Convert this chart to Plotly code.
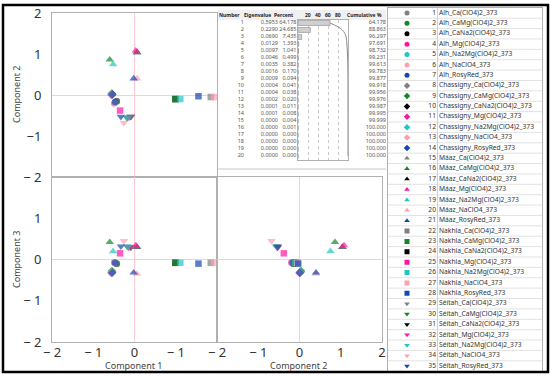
import plotly.graph_objects as go

W, H = 550, 378
def px(x): return x / W
def py(y): return 1 - y / H

# ---------------- data ----------------
sites = ["Alh", "Chassigny", "Máaz", "Nakhla", "Séítah"]
salts = ["Ca(ClO4)2", "CaMg(ClO4)2", "CaNa2(ClO4)2", "Mg(ClO4)2",
         "Na2Mg(ClO4)2", "NaClO4", "RosyRed"]
site_symbols = ["circle", "diamond", "triangle-up", "square", "triangle-down"]
salt_colors = ["#808080", "#12872a", "#000000", "#ff17a2", "#22c4c4", "#ff9fb2", "#1546b5"]

sample_names = [f"{s}_{t}_373" for s in sites for t in salts]

comp1 = [-0.43, -0.46, -0.43, -0.49, -0.47, -0.48, -0.47,
         -0.54, -0.55, -0.54, -0.56, -0.55, -0.55, -0.54,
         0.06, -0.60, 0.06, 0.03, -0.52, 0.06, -0.02,
         1.85, 0.99, 0.99, -0.35, 1.11, 1.93, 1.55,
         -0.09, -0.18, -0.09, -0.14, -0.16, -0.26, -0.33]
comp2 = [-0.15, -0.17, -0.15, -0.20, -0.18, -0.19, -0.17,
         0.02, 0.04, 0.02, 0.00, 0.02, 0.01, 0.01,
         1.04, 0.86, 1.04, 1.08, 0.75, 0.40, 0.40,
         -0.05, -0.10, -0.10, -0.38, -0.10, -0.05, -0.03,
         -0.53, -0.56, -0.53, -0.54, -0.55, -0.68, -0.53]
comp3 = [-0.10, -0.09, -0.10, -0.07, -0.08, -0.08, -0.08,
         -0.30, -0.28, -0.30, -0.33, -0.31, -0.31, -0.32,
         0.30, 0.42, 0.30, 0.34, 0.20, -0.35, -0.32,
         -0.08, -0.08, -0.08, 0.15, -0.08, -0.08, -0.10,
         0.30, 0.32, 0.30, 0.29, 0.31, 0.45, 0.32]

eig_number = list(range(1, 21))
eigenvalue = ["0.5953", "0.2290", "0.0690", "0.0129", "0.0097", "0.0046", "0.0035",
              "0.0016", "0.0009", "0.0004", "0.0004", "0.0002", "0.0001", "0.0001",
              "0.0000", "0.0000", "0.0000", "0.0000", "0.0000", "0.0000"]
percent = [64.178, 24.685, 7.435, 1.393, 1.041, 0.499, 0.382, 0.170, 0.094, 0.041,
           0.038, 0.020, 0.011, 0.008, 0.004, 0.001, 0.000, 0.000, 0.000, 0.000]
cumulative = [64.178, 88.863, 96.297, 97.691, 98.732, 99.231, 99.613, 99.783, 99.877, 99.918,
              99.956, 99.976, 99.987, 99.995, 99.999, 100.000, 100.000, 100.000, 100.000, 100.000]

ticks_all = [-2, -1, 0, 1, 2]
xt_left = ["− 2", "− 1", "0", "− 1", "− 2"]
xt_right_vals = [-1, 0, 1, 2]
xt_right = ["− 1", "0", "1", "2"]
yt_top = ["− 2", "−1", "0", "1", "2"]
yt_bot_vals = [-2, -1, 0, 1]
yt_bot = ["− 2", "− 1", "0", "1"]

# --------------- figure ---------------
n = len(sample_names)
colors = [salt_colors[i % 7] for i in range(n)]
symbols = [site_symbols[i // 7] for i in range(n)]
sizes = [7.5 if "triangle" in symbols[i] else 6.5 for i in range(n)]
# draw black (CaNa2) markers first so they sit underneath
order = [i for i in range(n) if i % 7 == 2] + [i for i in range(n) if i % 7 != 2]

def pick(arr):
    return [arr[i] for i in order]

fig = go.Figure()
panels = [("x", "y", comp1, comp2), ("x2", "y2", comp1, comp3), ("x3", "y3", comp2, comp3)]
for xa, ya, xs, ys in panels:
    fig.add_trace(go.Scatter(
        x=pick(xs), y=pick(ys), xaxis=xa, yaxis=ya, mode="markers",
        text=pick(sample_names), hoverinfo="text",
        marker=dict(color=pick(colors), symbol=pick(symbols), size=pick(sizes),
                    line=dict(width=0))))

# eigenvalue bar chart
fig.add_trace(go.Bar(x=percent, y=eig_number, orientation="h", xaxis="x5", yaxis="y5",
                     width=0.7, marker=dict(color="#d0d0d0", line=dict(color="#8a8a8a", width=0.6)),
                     hoverinfo="skip"))
fig.add_trace(go.Scatter(x=cumulative, y=eig_number, xaxis="x5", yaxis="y5", mode="lines",
                         line=dict(color="#8a8a8a", width=1, shape="spline"), hoverinfo="skip"))

# table columns on a helper axis (x6 / y6) spanning the table area
tf = dict(family="Noto Sans", size=5.5, color="#555")
def table_col(texts, xpos, pos="middle left"):
    fig.add_trace(go.Scatter(x=[xpos] * len(texts), y=eig_number, xaxis="x6", yaxis="y6",
                             mode="text", text=texts, textposition=pos, cliponaxis=False,
                             textfont=tf, hoverinfo="skip"))
table_col([str(v) for v in eig_number], 244)
table_col(eigenvalue, 278)
table_col([f"{v:.3f}" for v in percent], 296.5)
table_col([f"{v:.3f}" for v in cumulative], 386)

# sample legend table
rows = list(range(1, n + 1))
fig.add_trace(go.Scatter(x=[19] * n, y=rows, xaxis="x4", yaxis="y4", mode="markers",
                         marker=dict(color=colors, symbol=symbols, size=5, line=dict(width=0)),
                         hoverinfo="skip"))
lf = dict(family="Noto Sans", size=6.7, color="#333")
fig.add_trace(go.Scatter(x=[48] * n, y=rows, xaxis="x4", yaxis="y4", mode="text",
                         text=[str(r) for r in rows], textposition="middle left",
                         textfont=lf, hoverinfo="skip", cliponaxis=False))
fig.add_trace(go.Scatter(x=[51] * n, y=rows, xaxis="x4", yaxis="y4", mode="text",
                         text=sample_names, textposition="middle right",
                         textfont=lf, hoverinfo="skip", cliponaxis=False))

axis_common = dict(range=[-2, 2], showgrid=False, zeroline=True, zerolinecolor="#ffcad3",
                   zerolinewidth=1, showline=True, mirror=True, linecolor="#b0b0b0",
                   linewidth=1, ticks="", fixedrange=True, automargin=False,
                   tickfont=dict(family="Noto Sans", size=13, color="#333"))
plain = dict(showticklabels=False, showgrid=False, zeroline=False, ticks="",
             showline=True, mirror=True, linecolor="#b0b0b0", fixedrange=True,
             automargin=False)

fig.update_layout(
    width=W, height=H, margin=dict(l=0, r=0, t=0, b=0, autoexpand=False),
    paper_bgcolor="white", plot_bgcolor="rgba(0,0,0,0)", showlegend=False,
    xaxis=dict(axis_common, domain=[px(52), px(217)], anchor="y", showticklabels=False),
    yaxis=dict(axis_common, domain=[py(177), py(13)], anchor="x",
               tickvals=ticks_all, ticktext=yt_top, ticklabelstandoff=7),
    xaxis2=dict(axis_common, domain=[px(52), px(217)], anchor="y2",
                tickvals=ticks_all, ticktext=xt_left, ticklabelstandoff=-2),
    yaxis2=dict(axis_common, domain=[py(342), py(177)], anchor="x2",
                tickvals=yt_bot_vals, ticktext=yt_bot, ticklabelstandoff=7),
    xaxis3=dict(axis_common, domain=[px(217), px(382)], anchor="y3",
                tickvals=xt_right_vals, ticktext=xt_right, ticklabelstandoff=-2),
    yaxis3=dict(axis_common, domain=[py(342), py(177)], anchor="x3", showticklabels=False),
    xaxis4=dict(plain, domain=[px(388), px(542)], range=[0, 154], anchor="y4"),
    yaxis4=dict(plain, domain=[py(371.2), py(7.8)], range=[35.5, 0.5], anchor="x4"),
    xaxis5=dict(plain, domain=[px(298), px(348)], range=[0, 100], anchor="y5",
                showgrid=True, gridcolor="#c8c8c8", griddash="dot", tickvals=[20, 40, 60, 80]),
    yaxis5=dict(plain, domain=[py(159.5), py(19.5)], range=[20.5, 0.5], anchor="x5"),
    xaxis6=dict(domain=[px(218), px(386)], range=[218, 386], anchor="y6", visible=False,
                fixedrange=True, automargin=False),
    yaxis6=dict(domain=[py(159.5), py(19.5)], range=[20.5, 0.5], anchor="x6", visible=False,
                fixedrange=True, automargin=False),
    bargap=0.3,
)

shapes = []
# header band of the eigenvalue table
shapes.append(dict(type="rect", xref="paper", yref="paper", x0=px(218), x1=px(386),
                   y0=py(20), y1=py(10), fillcolor="#f0f0f0", line=dict(width=0), layer="below"))
shapes.append(dict(type="line", xref="paper", yref="paper", x0=px(217), x1=px(386),
                   y0=py(169), y1=py(169), line=dict(color="#c8c8c8", width=1)))
# legend table row separators and column separator
for r in range(1, n):
    shapes.append(dict(type="line", xref="x4", yref="y4", x0=0, x1=154, y0=r + 0.5, y1=r + 0.5,
                       line=dict(color="#e2e2e2", width=1)))
shapes.append(dict(type="line", xref="x4", yref="y4", x0=49.5, x1=49.5, y0=0.5, y1=35.5,
                   line=dict(color="#d0d0d0", width=1)))
# outer thick frame
shapes.append(dict(type="rect", xref="paper", yref="paper", x0=px(3), x1=px(548),
                   y0=py(372), y1=py(5), line=dict(color="black", width=2.5)))
fig.update_layout(shapes=shapes)

hf = dict(family="Noto Sans", size=5, color="#222")
ann = [
    dict(text="Component 2", x=px(16), y=py(95), textangle=-90),
    dict(text="Component 3", x=px(16), y=py(260), textangle=-90),
    dict(text="Component 1", x=px(133), y=py(365)),
    dict(text="Component 2", x=px(298), y=py(365)),
]
annotations = []
for a in ann:
    annotations.append(dict(a, xref="paper", yref="paper", showarrow=False,
                            font=dict(family="Noto Sans", size=9, color="#444"),
                            xanchor="center", yanchor="middle"))
headers = [("Number", 242), ("Eigenvalue", 272.5), ("Percent", 295.5), ("Cumulative %", 384)]
for t, xr in headers:
    annotations.append(dict(text=f"<b>{t}</b>", x=px(xr), y=py(15), xref="paper", yref="paper",
                            xanchor="right", yanchor="middle", showarrow=False, font=hf))
for v in [20, 40, 60, 80]:
    annotations.append(dict(text=f"<b>{v}</b>", x=v, y=py(15), xref="x5", yref="paper",
                            xanchor="center", yanchor="middle", showarrow=False, font=hf))
fig.update_layout(annotations=annotations)

fig.write_html("out.html", config={"displayModeBar": False},
               post_script="document.body.style.margin='0px';")
